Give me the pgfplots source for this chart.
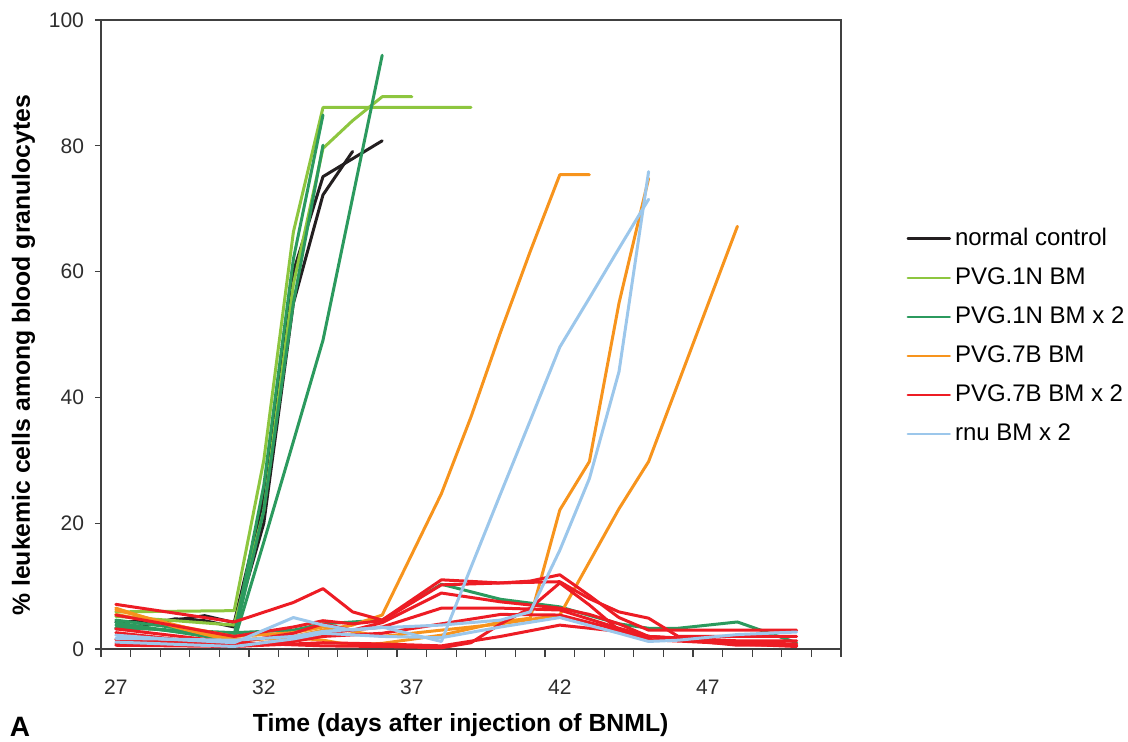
\documentclass[border=0pt]{standalone}
\usepackage{pgfplots}
\pgfplotsset{compat=1.18}
\usepackage{fontspec}
\setmainfont{Liberation Sans}

\definecolor{cBlack}{HTML}{231F20}
\definecolor{cLGreen}{HTML}{8DC63F}
\definecolor{cGreen}{HTML}{2B9A5E}
\definecolor{cOrange}{HTML}{F7941D}
\definecolor{cRed}{HTML}{ED1C24}
\definecolor{cBlue}{HTML}{9CC7EB}
\definecolor{axgray}{HTML}{404040}

\begin{document}
\begin{tikzpicture}
\begin{axis}[
    scale only axis,
    width=370pt, height=314.5pt,
    xmin=26.5, xmax=51.5,
    ymin=0, ymax=100,
    xtick={27,32,37,42,47},
    minor xtick={26.5,27.5,...,51.5},
    ytick={0,20,...,100},
    major x tick style={draw=none},
    minor tick length=4pt,
    major tick length=3pt,
    tick align=outside,
    tick pos=left,
    tick style={axgray, line width=0.6pt},
    axis line style={axgray, line width=0.7pt},
    tick label style={font=\fontsize{10.5}{12}\selectfont, text=axgray!70!black},
    /pgf/number format/assume math mode=true,
    xticklabel style={yshift=-9pt},
    yticklabel style={xshift=-2pt},
    xlabel={\bfseries Time (days after injection of BNML)},
    ylabel={\bfseries \% leukemic cells among blood granulocytes},
    label style={font=\fontsize{12.4}{14}\selectfont},
    xlabel style={at={(axis description cs:0.486,0)}, anchor=center, yshift=-38pt},
    ylabel style={at={(ticklabel cs:0.467)}},
    every axis plot/.append style={line width=1.5pt, line join=round, line cap=round},
    legend style={draw=none, fill=none, at={(1.08,0.682)}, anchor=north west,
        font=\fontsize{12}{14}\selectfont, row sep=5.6pt,
        cells={anchor=west}},
    legend image code/.code={\draw[#1, line width=1.2pt] (-1.5pt,0pt) -- (19.5pt,0pt);},
]
% normal control
\addplot[cBlack] coordinates {(27,4.3)(28,4.4)(29,4.6)(30,5.3)(31,4.2)(32,24)(33,60)(34,75.1)(36,80.8)};
\addlegendentry{normal control}
\addplot[cBlack, forget plot] coordinates {(27,3.2)(28,3.8)(29,4.8)(30,4.5)(31,3.5)(32,20)(33,55)(34,72.2)(35,79.1)};
% PVG.1N BM
\addplot[cLGreen] coordinates {(27,5.9)(31,6.1)(32,30)(33,66.3)(34,86.1)(35,86.1)(36,86.1)(37,86.1)(38,86.1)(39,86.1)};
\addlegendentry{PVG.1N BM}
\addplot[cLGreen, forget plot] coordinates {(27,5.2)(31,3.8)(32,22)(33,58)(34,79.6)(35,84)(36,87.8)(37,87.8)};
% PVG.1N BM x 2
\addplot[cGreen] coordinates {(27,4.6)(31,2.2)(32,26)(33,62)(34,84.9)};
\addlegendentry{PVG.1N BM x 2}
\addplot[cGreen, forget plot] coordinates {(27,3.8)(31,1.8)(32,22)(33,55)(34,80.1)};
\addplot[cGreen, forget plot] coordinates {(27,4.2)(31,1.3)(32,17)(33,33)(34,49.1)(36,94.4)};
\addplot[cGreen, forget plot] coordinates {(27,3.4)(31,2.6)(33,3.0)(34,4.0)(36,4.6)(38,10.3)(40,7.9)(42,6.7)(44,4.0)(45,3.3)(46,3.3)(48,4.3)(50,1.0)};
% PVG.7B BM
\addplot[cOrange] coordinates {(27,6.5)(29,3.5)(31,1.2)(33,2.0)(34,3.0)(35,3.8)(36,5.4)(38,24.7)(39,36.9)(40,50.4)(41,63.2)(42,75.4)(43,75.4)};
\addlegendentry{PVG.7B BM}
\addplot[cOrange, forget plot] coordinates {(27,6.2)(31,1.5)(33,1.8)(34,1.4)(35,0.6)(36,0.9)(38,2.2)(40,4.3)(41,4.9)(42,22.1)(43,29.8)(44,55)(45,74.8)};
\addplot[cOrange, forget plot] coordinates {(27,5.5)(31,2.0)(33,2.6)(34,3.5)(35,2.8)(36,2.0)(38,3.0)(40,4.0)(42,5.4)(44,22.3)(45,29.8)(48,67.2)};
% PVG.7B BM x 2
\addplot[cRed] coordinates {(27,7.1)(31,4.3)(33,7.4)(34,9.6)(35,5.9)(36,4.6)(38,11.0)(40,10.5)(42,10.7)(43,8.0)(44,5.9)(45,4.9)(46,2.0)(48,2.0)(50,2.0)};
\addlegendentry{PVG.7B BM x 2}
\addplot[cRed, forget plot] coordinates {(27,5.4)(31,2.0)(33,3.5)(34,4.5)(35,4.0)(36,4.5)(38,10.2)(40,10.5)(41,10.8)(42,11.8)(43,8.5)(44,5.0)(45,3.0)(48,3.0)(50,3.0)};
\addplot[cRed, forget plot] coordinates {(27,3.2)(31,1.0)(33,2.5)(34,4.0)(35,3.0)(36,4.2)(38,8.9)(40,7.5)(42,6.5)(43,5.5)(44,4.0)(45,2.0)(48,1.3)(50,1.3)};
\addplot[cRed, forget plot] coordinates {(27,2.6)(31,0.5)(33,1.5)(34,2.5)(36,3.5)(38,6.5)(40,6.5)(42,6.2)(44,3.3)(45,2.0)(48,1.0)(50,0.8)};
\addplot[cRed, forget plot] coordinates {(27,0.6)(31,0.4)(33,0.8)(34,1.0)(36,0.8)(38,0.5)(40,2.0)(42,3.8)(44,2.8)(45,2.0)(48,0.6)(50,0.6)};
\addplot[cRed, forget plot] coordinates {(27,0.8)(31,1.0)(34,0.5)(36,0.4)(38,0.2)(39,1.0)(40,4.0)(41,6.5)(42,10.5)(43,7.0)(44,3.0)(45,2.0)(48,1.0)(50,0.5)};
\addplot[cRed, forget plot] coordinates {(27,1.5)(31,0.6)(33,1.2)(34,2.0)(36,2.5)(38,4.0)(40,5.5)(42,5.4)(44,3.0)(45,1.5)(48,0.8)(50,0.4)};
% rnu BM x 2
\addplot[cBlue] coordinates {(27,2.2)(29,1.5)(31,1.0)(33,5.0)(34,3.8)(35,3.0)(36,3.5)(38,1.2)(39,13)(40,24.7)(41,36.3)(42,48)(43,55.8)(44,63.7)(45,71.5)};
\addlegendentry{rnu BM x 2}
\addplot[cBlue, forget plot] coordinates {(27,1.7)(31,1.4)(33,2.0)(34,2.8)(36,3.4)(38,3.8)(40,4.6)(41,5.9)(42,15.7)(43,27.1)(44,44.1)(45,75.9)};
\addplot[cBlue, forget plot] coordinates {(27,1.1)(31,0.4)(33,1.6)(34,2.5)(36,2.0)(38,1.8)(40,3.5)(42,5.0)(44,2.5)(45,1.2)(46,1.4)(48,2.3)(50,2.7)};
\end{axis}
\node[font=\fontsize{14}{16}\selectfont\bfseries, anchor=center] at ([xshift=-40.5pt,yshift=-39pt]current axis.south west) {A};
\pgfresetboundingbox
\path (current axis.south west) ++(-50.5pt,-46pt) rectangle ++(564pt,370.5pt);
\end{tikzpicture}
\end{document}
